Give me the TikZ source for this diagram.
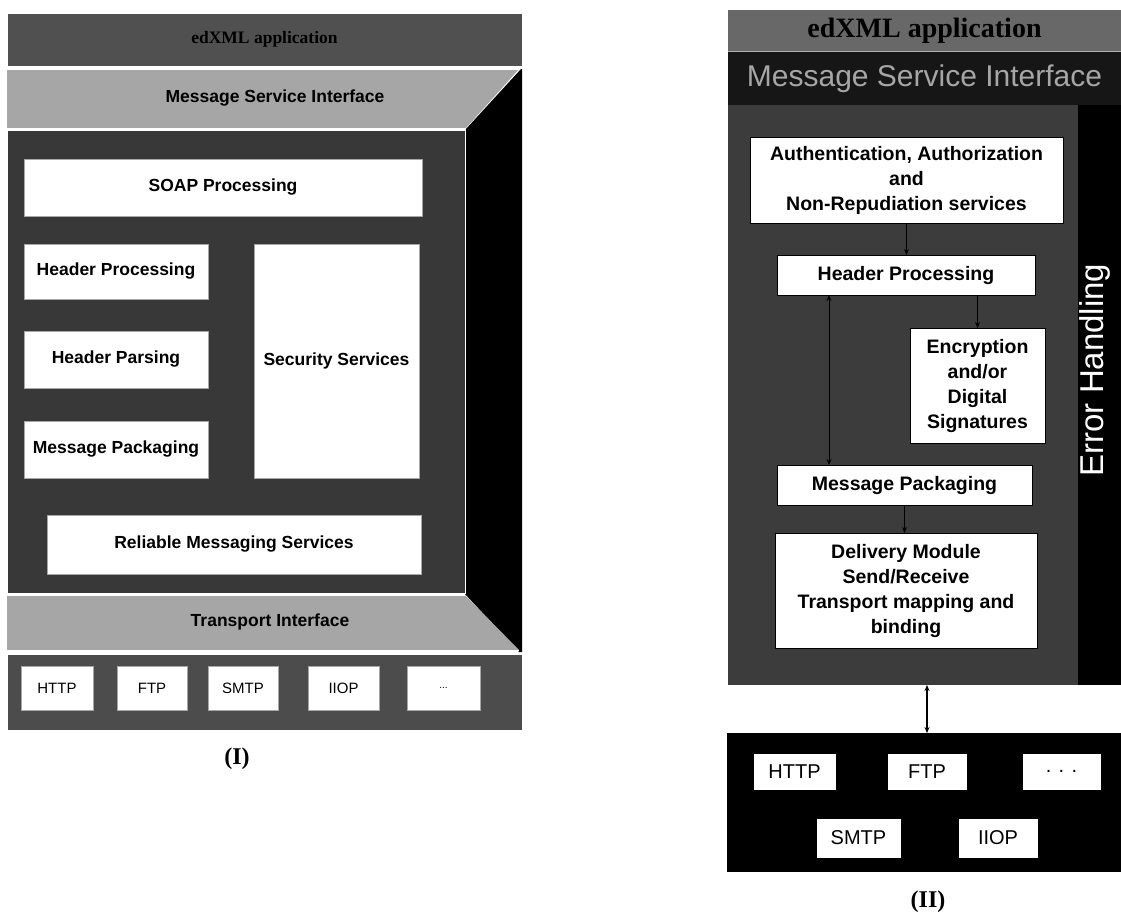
\documentclass[tikz,border=0pt]{standalone}
\usepackage{fontspec}
\setmainfont{Liberation Serif}
\setsansfont{Liberation Sans}
\usetikzlibrary{arrows.meta,calc}

\definecolor{barDark}{HTML}{505050}
\definecolor{barLight}{HTML}{A6A6A6}
\definecolor{panelDark}{HTML}{383838}
\definecolor{rowDark}{HTML}{4C4C4C}
\definecolor{rTop}{HTML}{686868}
\definecolor{rMsi}{HTML}{161616}
\definecolor{rPanel}{HTML}{3C3C3C}

\begin{document}
\begin{tikzpicture}[x=1pt,y=-1pt,
  blk/.style={anchor=north west, inner sep=0pt, outer sep=0pt},
  area/.style={blk, draw=white, line width=0.8pt},
  lbox/.style={blk, fill=white, draw=gray!70, line width=0.8pt,
    font=\fontsize{17.5}{21}\selectfont\sffamily\bfseries},
  lproto/.style={blk, fill=white, draw=gray!70, line width=0.8pt,
    font=\fontsize{15}{18}\selectfont\sffamily},
  rbox/.style={blk, fill=white, draw=black, line width=0.8pt, align=center,
    font=\fontsize{19.5}{25}\selectfont\sffamily\bfseries},
  rproto/.style={blk, fill=white, draw=black, line width=0.6pt,
    font=\fontsize{20}{24}\selectfont\sffamily},
  flow/.style={draw=black, line width=0.9pt, -{Stealth[length=6pt,width=5pt]}},
  both/.style={draw=black, line width=0.9pt, {Stealth[length=6pt,width=5pt]}-{Stealth[length=6pt,width=5pt]}},
  caption/.style={font=\fontsize{24}{28}\selectfont\rmfamily\bfseries}
]
\useasboundingbox (0,0) rectangle (1121,922);
\fill[white] (0,0) rectangle (1121,922);

% ---------------- Stack (I) ----------------
\node[area, fill=barDark, minimum width=515, minimum height=53,
      font=\fontsize{17.5}{21}\selectfont\rmfamily\bfseries, text=black]
      (lapp) at (7,13) {edXML application};

% side face of the stack
\fill[black] (466,129) -- (521,69) -- (522,69) -- (522,652) -- (519,652) -- (465,594) -- cycle;

% Message Service Interface slab
\fill[barLight] (7,69) -- (519,69) -- (466,128) -- (7,128) -- cycle;
\draw[white, line width=0.8pt] (7,69) -- (519,69) (7,128) -- (466,128);
\node[font=\fontsize{17.5}{21}\selectfont\sffamily\bfseries] (lmsi) at (275,98) {Message Service Interface};

% processing panel
\node[area, fill=panelDark, minimum width=458, minimum height=463] (lpanel) at (7,130) {};

\node[lbox, minimum width=398, minimum height=57] (soap) at (24,159) {SOAP Processing};
\node[lbox, minimum width=184, minimum height=55] (lhp) at (24,244) {Header Processing};
\node[lbox, minimum width=184, minimum height=57] (lhparse) at (24,331) {Header Parsing};
\node[lbox, minimum width=184, minimum height=57] (lmp) at (24,421) {Message Packaging};
\node[lbox, minimum width=165, minimum height=234] (lsec) at (254,244) {Security Services};
\node[lbox, minimum width=374, minimum height=59] (lrel) at (47,515) {Reliable Messaging Services};

% Transport Interface slab
\fill[barLight] (7,595) -- (465,595) -- (519,650) -- (7,650) -- cycle;
\draw[white, line width=0.8pt] (7,595) -- (465,595) (7,650) -- (519,650);
\node[font=\fontsize{17.5}{21}\selectfont\sffamily\bfseries] (ltrans) at (270,622) {Transport Interface};

% protocol row
\node[area, fill=rowDark, minimum width=515, minimum height=76] (lrow) at (7,654) {};
\node[lproto, minimum width=72, minimum height=44] (lhttp) at (21,666) {HTTP};
\node[lproto, minimum width=70, minimum height=44] (lftp) at (117,666) {FTP};
\node[lproto, minimum width=70, minimum height=44] (lsmtp) at (208,666) {SMTP};
\node[lproto, minimum width=71, minimum height=44] (liiop) at (308,666) {IIOP};
\node[lproto, minimum width=73, minimum height=44, font=\fontsize{10}{12}\selectfont\sffamily] (ldots) at (407,666) {...};

\node[caption] (capI) at (237,759) {(I)};

% ---------------- Stack (II) ----------------
\node[blk, fill=rTop, minimum width=393, minimum height=41,
      font=\fontsize{28}{32}\selectfont\rmfamily\bfseries] (rapp) at (728,10) {edXML application};
\node[blk, fill=rMsi, minimum width=393, minimum height=53, text=gray!70,
      font=\fontsize{30}{34}\selectfont\sffamily] (rmsi) at (728,52) {Message Service Interface};
\draw[gray!60, line width=0.8pt] (rapp.south west) -- (rapp.south east);

\node[blk, fill=rPanel, minimum width=350, minimum height=580] (rpanel) at (728,105) {};
\node[blk, fill=black, minimum width=43, minimum height=580] (rerr) at (1078,105) {};
\node[rotate=90, text=white, inner sep=0pt, font=\fontsize{33}{36}\selectfont\sffamily] (errtxt) at (1095,370) {Error Handling};

\node[rbox, minimum width=313, minimum height=86] (auth) at (750,137)
  {Authentication, Authorization\\and\\Non-Repudiation services};
\node[rbox, minimum width=258, minimum height=40] (rhp) at (777,255) {Header Processing};
\node[rbox, minimum width=135, minimum height=115] (enc) at (910,328)
  {Encryption\\and/or\\Digital\\Signatures};
\node[rbox, minimum width=255, minimum height=40] (rmp) at (777,465) {Message Packaging};
\node[rbox, minimum width=262, minimum height=115] (dm) at (775,533)
  {Delivery Module\\Send/Receive\\Transport mapping and\\binding};

\draw[flow] (auth.south) -- (auth.south |- rhp.north);
\draw[flow] (rhp.south -| enc.north) -- (enc.north);
\draw[both] ([xshift=-77pt]rhp.south) -- ([xshift=-77pt]rhp.south |- rmp.north);
\draw[flow] (rmp.south) -- (rmp.south |- dm.north);

% transport bindings
\node[blk, fill=black, minimum width=394, minimum height=139] (rrow) at (727,733) {};
\node[rproto, minimum width=83, minimum height=37] (rhttp) at (753,753) {HTTP};
\node[rproto, minimum width=80, minimum height=37] (rftp) at (887,753) {FTP};
\node[rproto, minimum width=79, minimum height=37] (rdots) at (1022,753) {. . .};
\node[rproto, minimum width=85, minimum height=40] (rsmtp) at (816,818) {SMTP};
\node[rproto, minimum width=80, minimum height=40] (riiop) at (958,818) {IIOP};

\draw[both, line width=1.4pt] ([xshift=24pt]rpanel.south) -- ([xshift=24pt]rpanel.south |- rrow.north);

\node[caption] (capII) at (928,902) {(II)};
\end{tikzpicture}
\end{document}
